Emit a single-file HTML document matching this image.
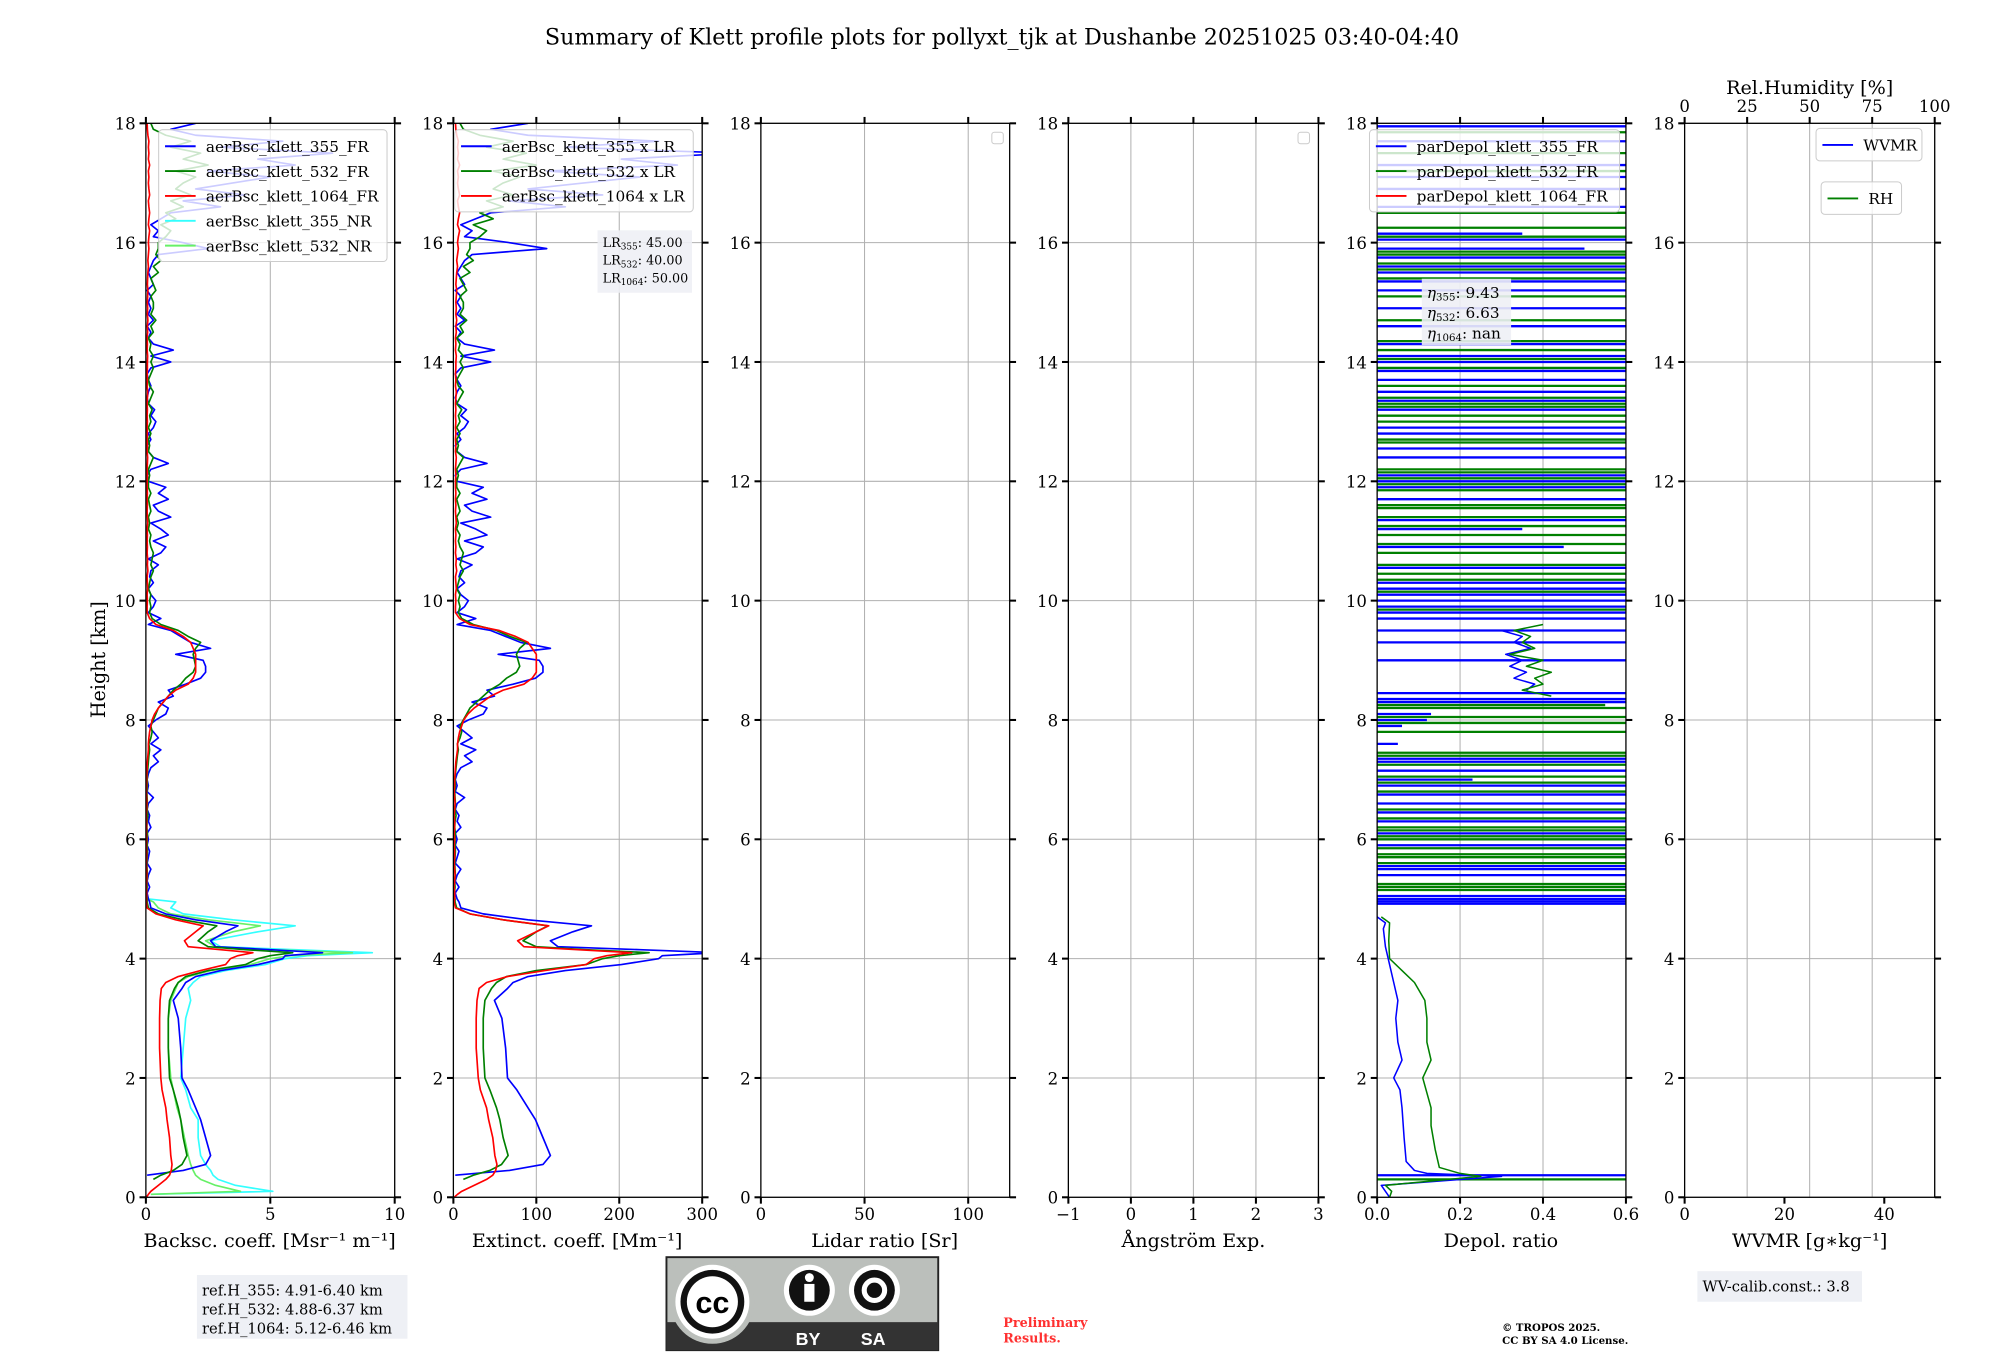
<!DOCTYPE html>
<html><head><meta charset="utf-8">
<style>
html,body{margin:0;padding:0;background:#fff;}
svg{display:block;font-family:"DejaVu Serif","Liberation Serif",serif;}
</style></head>
<body>
<svg id="fig" xmlns="http://www.w3.org/2000/svg" width="2000" height="1360" viewBox="0 0 1560 1061" preserveAspectRatio="none">
<rect x="0" y="0" width="1560" height="1061" fill="#fff"/>
<g id="root" transform="matrix(0.9952 0 0 0.9939 1.34 0.79)">
<text x="784" y="34" font-size="17.4" text-anchor="middle">Summary of Klett profile plots for pollyxt_tjk at Dushanbe 20251025 03:40-04:40</text>
<text x="0" y="0" font-size="15" text-anchor="middle" transform="translate(81,517) rotate(-90)">Height [km]</text>
<g id="plots"></g>
<g>
<rect x="153" y="1000" width="165" height="50" fill="#eef0f5"/>
<text x="157" y="1016" font-size="11.5">ref.H_355: 4.91-6.40 km</text>
<text x="157" y="1031" font-size="11.5">ref.H_532: 4.88-6.37 km</text>
<text x="157" y="1046" font-size="11.5">ref.H_1064: 5.12-6.46 km</text>
</g>
<g>
<rect x="521" y="986" width="213" height="73" fill="#bbbfbb" stroke="#222" stroke-width="1.5"/>
<rect x="521" y="1037" width="213" height="22" fill="#333"/>
<circle cx="557" cy="1021" r="33" fill="#bbbfbb"/>
<circle cx="557" cy="1021" r="29" fill="#fff"/>
<circle cx="557" cy="1021" r="25" fill="#111"/>
<circle cx="557" cy="1021" r="20" fill="#fff"/>
<text x="557" y="1030" font-size="24" font-weight="bold" text-anchor="middle" font-family="Liberation Sans, sans-serif">cc</text>
<circle cx="633" cy="1012" r="20" fill="#fff"/><circle cx="633" cy="1012" r="16" fill="#111"/>
<circle cx="633" cy="1002" r="3.5" fill="#fff"/><rect x="629" y="1007" width="8" height="14" fill="#fff"/>
<circle cx="684" cy="1012" r="20" fill="#fff"/><circle cx="684" cy="1012" r="16" fill="#111"/>
<circle cx="684" cy="1012" r="8" fill="none" stroke="#fff" stroke-width="4"/>
<text x="632" y="1055" font-size="14" font-weight="bold" fill="#fff" text-anchor="middle" font-family="Liberation Sans, sans-serif">BY</text>
<text x="683" y="1055" font-size="14" font-weight="bold" fill="#fff" text-anchor="middle" font-family="Liberation Sans, sans-serif">SA</text>
</g>
<text x="785" y="1041" font-size="10" font-weight="bold" fill="#ff3030">Preliminary</text>
<text x="785" y="1053" font-size="10" font-weight="bold" fill="#ff3030">Results.</text>
<text x="1176" y="1044" font-size="8" font-weight="bold">© TROPOS 2025.</text>
<text x="1176" y="1054" font-size="8" font-weight="bold">CC BY SA 4.0 License.</text>
<g>
<rect x="1329" y="997" width="129" height="24" fill="#eef0f5"/>
<text x="1333" y="1013" font-size="11.5">WV-calib.const.: 3.8</text>
</g>
</g>
</svg>
<script>
const heightsLow = [0,0.05,0.1,0.2,0.3,0.37,0.45,0.55,0.7,1.0,1.3,1.5,1.8,2.0,2.5,3.0,3.3,3.5,3.6,3.7,3.8,3.9,4.0,4.05,4.1,4.15,4.2,4.3,4.45,4.55,4.65,4.75,4.85,4.95];
const bsc355Low = [null,null,null,null,null,0.05,1.5,2.4,2.6,2.4,2.2,2.0,1.7,1.45,1.4,1.3,1.1,1.45,1.6,2.0,3.0,4.5,5.5,5.6,7.1,5.0,2.8,2.6,3.2,3.7,2.0,0.8,0.2,0.15];
const bsc532Low = [null,null,null,null,0.3,0.6,1.1,1.45,1.65,1.5,1.4,1.3,1.1,0.95,0.9,0.9,0.95,1.15,1.3,1.6,2.5,4.0,4.5,5.0,5.9,4.0,2.5,2.1,2.5,2.85,1.5,0.5,0.1,0.05];
const bsc1064Low = [0.02,0.1,0.2,0.5,0.8,0.95,1.02,1.05,1.0,0.95,0.85,0.8,0.65,0.6,0.55,0.55,0.57,0.62,0.8,1.3,2.2,3.2,3.4,3.7,4.3,3.0,1.7,1.55,2.0,2.3,1.2,0.4,0.05,0.02];
const bsc355NRLow = [null,0.2,5.1,3.6,2.9,2.7,2.6,2.4,2.2,2.1,2.1,1.8,1.6,1.4,1.5,1.6,1.8,1.7,1.9,2.2,3.2,4.8,5.6,6.5,9.1,6.0,3.0,2.6,4.5,6.0,3.5,1.5,1.0,1.2];
const bsc532NRLow = [null,0.2,3.8,2.8,2.2,2.0,1.9,1.8,1.7,1.55,1.4,1.25,1.1,1.0,0.9,0.9,1.0,1.2,1.3,1.7,2.6,4.2,5.0,5.8,8.3,5.0,2.8,2.4,3.5,4.6,2.5,1.0,0.5,0.3];
const upperStart = 5.0, upperStep = 0.1;
const bsc355Up = [0.1,0.05,0.15,0.05,0.1,0.2,0.05,0.1,0.15,0.05,
0.1,0.05,0.2,0.1,0.15,0.05,0.1,0.3,0.05,0.1,
0.05,0.1,0.2,0.5,0.3,0.6,0.2,0.5,0.3,0.1,
0.4,0.8,0.9,0.5,1.1,0.9,1.6,2.2,2.4,2.4,
2.3,1.2,2.6,1.8,1.4,1.0,0.1,0.6,0.1,0.3,
0.4,0.2,0.1,0.3,0.15,0.2,0.5,0.1,0.6,0.8,
0.3,0.9,0.6,0.2,1.0,0.5,0.3,0.9,0.5,0.8,
0.1,0.05,0.2,0.9,0.3,0.1,0.05,0.2,0.1,0.3,
0.4,0.2,0.35,0.1,0.05,0.1,0.2,0.1,0.05,0.2,
1.0,0.2,1.1,0.3,0.1,0.2,0.05,0.3,0.1,0.2,
0.1,0.2,0.05,0.3,0.2,0.1,0.2,0.3,0.5,2.5,
1.5,0.3,0.5,0.2,0.6,1.0,3.0,1.5,4.0,2.0,
3.5,5.0,2.5,6.0,4.5,7.5,3.0,5.5,2.0,1.0,
2.0];
const bsc532Up = [0.05,0.03,0.05,0.04,0.06,0.05,0.04,0.05,0.06,0.05,
0.05,0.06,0.04,0.05,0.08,0.05,0.06,0.05,0.04,0.06,
0.05,0.06,0.08,0.1,0.12,0.15,0.12,0.2,0.25,0.2,
0.3,0.4,0.5,0.7,0.9,1.1,1.4,1.6,1.9,2.0,
1.95,1.9,2.0,2.2,1.7,1.3,0.6,0.25,0.15,0.2,
0.15,0.2,0.1,0.15,0.2,0.3,0.2,0.25,0.3,0.2,
0.15,0.2,0.1,0.15,0.1,0.2,0.15,0.1,0.2,0.1,
0.1,0.15,0.1,0.2,0.3,0.1,0.15,0.1,0.2,0.1,
0.2,0.15,0.25,0.1,0.2,0.3,0.15,0.1,0.2,0.3,
0.2,0.3,0.15,0.2,0.1,0.3,0.2,0.4,0.2,0.3,
0.3,0.2,0.4,0.3,0.2,0.5,0.3,0.6,0.4,0.5,
0.5,0.8,1.0,0.6,1.2,0.8,1.5,1.0,1.8,1.2,
1.5,2.0,1.2,2.5,1.5,2.2,1.0,1.8,0.8,0.3,
0.2];
const bsc1064Up = [0.03,0.03,0.02,0.03,0.04,0.03,0.02,0.03,0.03,0.02,
0.03,0.02,0.03,0.03,0.02,0.03,0.04,0.03,0.02,0.03,
0.03,0.04,0.05,0.06,0.08,0.1,0.1,0.12,0.15,0.2,
0.25,0.35,0.5,0.7,0.9,1.2,1.7,1.9,2.0,2.0,
2.0,2.0,1.9,1.8,1.5,1.1,0.4,0.15,0.05,0.05,
0.06,0.05,0.07,0.06,0.05,0.08,0.06,0.07,0.05,0.06,
0.05,0.06,0.05,0.07,0.06,0.05,0.06,0.05,0.06,0.05,
0.05,0.06,0.05,0.06,0.07,0.05,0.06,0.05,0.06,0.05,
0.06,0.05,0.06,0.05,0.06,0.07,0.05,0.06,0.05,0.06,
0.06,0.07,0.05,0.06,0.05,0.07,0.06,0.08,0.06,0.07,
0.06,0.07,0.08,0.06,0.07,0.08,0.1,0.08,0.1,0.12,
0.1,0.12,0.15,0.1,0.12,0.15,0.12,0.1,0.15,0.12,
0.1,0.12,0.1,0.15,0.1,0.12,0.1,0.12,0.08,0.06,
0.05];
const bsc355NRUp = [0.1];
const bsc532NRUp = [0.05];
const lidarRatios = [45, 40, 50];
const dep355H = [0,0.1,0.2,0.35,0.4,0.45,0.6,1.0,1.5,1.8,2.0,2.3,2.6,3.0,3.3,3.6,3.9,4.2,4.5,4.6,4.7];
const dep355V = [0.03,0.02,0.01,0.3,0.12,0.09,0.07,0.065,0.06,0.055,0.04,0.06,0.05,0.045,0.05,0.04,0.03,0.02,0.015,0.02,0.0];
const dep532H = [0,0.1,0.2,0.35,0.4,0.5,0.8,1.2,1.5,2.0,2.3,2.6,3.0,3.3,3.6,3.8,4.0,4.3,4.6,4.7];
const dep532V = [0.03,0.035,0.02,0.25,0.2,0.15,0.14,0.13,0.13,0.11,0.13,0.12,0.12,0.115,0.09,0.06,0.03,0.028,0.03,0.01];
const dep355CloudH = [8.5,8.6,8.7,8.8,8.9,9.0,9.1,9.2,9.3,9.4,9.5];
const dep355CloudV = [0.36,0.38,0.33,0.36,0.32,0.35,0.31,0.37,0.33,0.35,0.3];
const dep532CloudH = [8.4,8.5,8.6,8.7,8.8,8.9,9.0,9.1,9.2,9.3,9.4,9.5,9.6];
const dep532CloudV = [0.42,0.35,0.4,0.38,0.42,0.36,0.4,0.32,0.38,0.35,0.37,0.33,0.4];
const dep355StreakH = [0.37,4.92,4.96,5.0,5.05,5.4,5.5,5.55,5.9,6.1,6.3,6.45,6.6,6.75,6.9,7.0,7.15,7.3,7.35,7.6,7.9,8.0,8.1,8.3,8.35,8.45,9.0,9.3,9.5,9.7,9.8,9.9,10.0,10.1,10.2,10.3,10.55,10.9,11.2,11.35,11.7,11.9,12.0,12.1,12.4,12.55,12.8,12.9,13.2,13.35,13.5,13.7,13.85,14.0,14.1,14.3,14.6,14.9,15.2,15.35,15.5,15.6,15.75,15.9,16.05,16.15,16.6,16.9,17.1,17.3,17.7,17.95];
const dep355StreakV = [0.6,0.6,0.6,0.6,0.6,0.6,0.6,0.6,0.6,0.6,0.6,0.6,0.6,0.6,0.6,0.23,0.6,0.6,0.6,0.05,0.06,0.12,0.13,0.6,0.6,0.6,0.6,0.6,0.6,0.6,0.6,0.6,0.6,0.6,0.6,0.6,0.6,0.45,0.35,0.6,0.6,0.6,0.6,0.6,0.6,0.6,0.6,0.6,0.6,0.6,0.6,0.6,0.6,0.6,0.6,0.6,0.6,0.6,0.6,0.6,0.6,0.6,0.6,0.5,0.6,0.35,0.6,0.6,0.6,0.6,0.6,0.6];
const dep532StreakH = [0.3,5.15,5.2,5.25,5.6,5.7,5.75,5.85,6.0,6.05,6.15,6.2,6.35,6.5,6.8,6.95,7.05,7.25,7.4,7.45,7.8,7.95,8.05,8.2,8.25,9.85,10.15,10.35,10.45,10.6,10.8,10.95,11.1,11.25,11.4,11.55,11.6,11.85,11.95,12.05,12.15,12.2,12.65,12.7,13.0,13.1,13.25,13.3,13.4,13.6,13.9,14.05,14.2,14.35,14.7,15.1,15.4,15.55,15.65,15.8,15.85,16.1,16.25,16.5,17.2,17.5,17.85];
const dep532StreakV = [0.6,0.6,0.6,0.6,0.6,0.6,0.6,0.6,0.6,0.6,0.6,0.6,0.6,0.6,0.6,0.6,0.6,0.6,0.6,0.6,0.6,0.6,0.6,0.6,0.55,0.6,0.6,0.6,0.6,0.6,0.6,0.6,0.6,0.6,0.6,0.6,0.6,0.6,0.6,0.6,0.6,0.6,0.6,0.6,0.6,0.6,0.6,0.6,0.6,0.6,0.6,0.6,0.6,0.6,0.6,0.6,0.6,0.6,0.6,0.6,0.6,0.6,0.6,0.6,0.6,0.6,0.6];
const yTicks = [0,2,4,6,8,10,12,14,16,18];
const bscTicks = [0,5,10];
const extTicks = [0,100,200,300];
const lrTicks = [0,50,100];
const angTicks = [-1,0,1,2,3];
const depTicks = [0.0,0.2,0.4,0.6];
const depTickLabels = ["0.0","0.2","0.4","0.6"];
const wvTicks = [0,20,40];
const rhTicks = [0,25,50,75,100];

const NS = "http://www.w3.org/2000/svg";
const plots = document.getElementById('plots');
const Y0 = 939, YTOP = 96, HMAX = 18;
function yScale(h){ return Y0 - h*(Y0-YTOP)/HMAX; }
function mk(tag, attrs, parent){
  const e = document.createElementNS(NS, tag);
  for (const k in attrs) e.setAttribute(k, attrs[k]);
  (parent||plots).appendChild(e); return e;
}
const upperHeights = bsc355Up.map((_, i) => +(upperStart + i*upperStep).toFixed(2));
function combine(low, up){ return { h: heightsLow.concat(upperHeights.slice(0, up.length)), v: low.concat(up) }; }

const panels = [
  {name:'backscatter', x0:113, x1:308, d0:0, d1:10, ticks:bscTicks, labels:bscTicks.map(String), label:'Backsc. coeff. [Msr\u207B\u00B9 m\u207B\u00B9]', lx:210},
  {name:'extinction', x0:354, x1:549, d0:0, d1:300, ticks:extTicks, labels:extTicks.map(String), label:'Extinct. coeff. [Mm\u207B\u00B9]', lx:451},
  {name:'lidar-ratio', x0:595, x1:790, d0:0, d1:120, ticks:lrTicks, labels:lrTicks.map(String), label:'Lidar ratio [Sr]', lx:692},
  {name:'angstrom', x0:836, x1:1032, d0:-1, d1:3, ticks:angTicks, labels:angTicks.map(v=>v<0?'\u2212'+(-v):String(v)), label:'\u00C5ngstr\u00F6m Exp.', lx:934},
  {name:'depol', x0:1078, x1:1273, d0:0, d1:0.6, ticks:depTicks, labels:depTickLabels, label:'Depol. ratio', lx:1175},
  {name:'wvmr', x0:1319, x1:1515, d0:0, d1:50.1, ticks:wvTicks, labels:wvTicks.map(String), label:'WVMR [g\u2217kg\u207B\u00B9]', lx:1417}
];
panels.forEach((p, idx) => {
  p.x = v => p.x0 + (v - p.d0)*(p.x1 - p.x0)/(p.d1 - p.d0);
  const g = mk('g', {});
  
  
  p.g = g;
  const cp = mk('clipPath', {id:'clip'+idx}, g);
  mk('rect', {x:p.x0, y:YTOP, width:p.x1-p.x0, height:Y0-YTOP}, cp);
  yTicks.forEach(t => { const l = mk('line', {x1:p.x0, x2:p.x1, y1:yScale(t), y2:yScale(t), stroke:'#b0b0b0', 'stroke-width':0.8}, g);
      });
  const gxTicks = idx===5 ? rhTicks.map(v => p.x0 + v*(p.x1-p.x0)/100) : p.ticks.map(p.x);
  gxTicks.forEach(x => { const l = mk('line', {x1:x, x2:x, y1:YTOP, y2:Y0, stroke:'#b0b0b0', 'stroke-width':0.8}, g);
      });
  p.plot = mk('g', {'clip-path':'url(#clip'+idx+')'}, g);
});

function drawLine(p, hs, vs, color, width, name, opacity){
  let d = '', pen = false;
  for (let i=0;i<hs.length;i++){
    const v = vs[i];
    if (v === null || v === undefined){ pen = false; continue; }
    d += (pen?'L':'M') + p.x(v).toFixed(2) + ',' + yScale(hs[i]).toFixed(2);
    pen = true;
  }
  const e = mk('path', {d:d, fill:'none', stroke:color, 'stroke-width':width, 'stroke-linejoin':'round', opacity:opacity||1}, p.plot);
  
  
}
function drawStreaks(p, hs, vs, color, name){
  let d = '';
  for (let i=0;i<hs.length;i++){ const y = yScale(hs[i]).toFixed(2); d += 'M' + p.x(0) + ',' + y + 'L' + p.x(vs[i]).toFixed(2) + ',' + y; }
  const e = mk('path', {d:d, fill:'none', stroke:color, 'stroke-width':1.8}, p.plot);
  
  
}

const s355 = combine(bsc355Low, bsc355Up), s532 = combine(bsc532Low, bsc532Up), s1064 = combine(bsc1064Low, bsc1064Up);
const s355NR = combine(bsc355NRLow, bsc355NRUp), s532NR = combine(bsc532NRLow, bsc532NRUp);
drawLine(panels[0], s355NR.h, s355NR.v, '#33ffff', 1.3, 'bsc-355-nr-line');
drawLine(panels[0], s532NR.h, s532NR.v, '#66f066', 1.3, 'bsc-532-nr-line');
drawLine(panels[0], s355.h, s355.v, '#0000ff', 1.3, 'bsc-355-fr-line');
drawLine(panels[0], s532.h, s532.v, '#008000', 1.3, 'bsc-532-fr-line');
drawLine(panels[0], s1064.h, s1064.v, '#ff0000', 1.3, 'bsc-1064-fr-line');
drawLine(panels[1], s355.h, s355.v.map(v => v===null?null:v*lidarRatios[0]), '#0000ff', 1.3, 'ext-355-line');
drawLine(panels[1], s532.h, s532.v.map(v => v===null?null:v*lidarRatios[1]), '#008000', 1.3, 'ext-532-line');
drawLine(panels[1], s1064.h, s1064.v.map(v => v===null?null:v*lidarRatios[2]), '#ff0000', 1.3, 'ext-1064-line');
drawStreaks(panels[4], dep355StreakH, dep355StreakV, '#0000ff', 'depol-355-noise');
drawStreaks(panels[4], dep532StreakH, dep532StreakV, '#008000', 'depol-532-noise');
drawLine(panels[4], dep355H, dep355V, '#0000ff', 1.2, 'depol-355-line');
drawLine(panels[4], dep532H, dep532V, '#008000', 1.2, 'depol-532-line');
drawLine(panels[4], dep355CloudH, dep355CloudV, '#0000ff', 1.2, 'depol-355-cloud-line');
drawLine(panels[4], dep532CloudH, dep532CloudV, '#008000', 1.2, 'depol-532-cloud-line');

panels.forEach((p, idx) => {
  const g = p.g;
  const fr = mk('rect', {x:p.x0, y:YTOP, width:p.x1-p.x0, height:Y0-YTOP, fill:'none', stroke:'#000', 'stroke-width':1}, g);
   
  yTicks.forEach(t => {
    const y = yScale(t);
    mk('line', {x1:p.x0-5, x2:p.x0, y1:y, y2:y, stroke:'#000', 'stroke-width':1.6}, g);
    mk('line', {x1:p.x1, x2:p.x1+5, y1:y, y2:y, stroke:'#000', 'stroke-width':1.6}, g);
    const tl = mk('text', {x:p.x0-8, y:y+5, 'font-size':13, 'text-anchor':'end'}, g);
    tl.textContent = String(t);
     
  });
  p.ticks.forEach((t, i) => {
    const x = p.x(t);
    mk('line', {x1:x, x2:x, y1:Y0, y2:Y0+5, stroke:'#000', 'stroke-width':1.6}, g);
    if (idx !== 5) mk('line', {x1:x, x2:x, y1:YTOP-5, y2:YTOP, stroke:'#000', 'stroke-width':1.6}, g);
    const tl = mk('text', {x:x, y:957, 'font-size':13, 'text-anchor':'middle'}, g);
    tl.textContent = p.labels[i];
     
  });
  const xl = mk('text', {x:p.lx, y:978, 'font-size':15, 'text-anchor':'middle'}, g);
  xl.textContent = p.label;
   
});
(function(){
  const p = panels[5];
  rhTicks.forEach(t => {
    const x = p.x0 + t*(p.x1-p.x0)/100;
    mk('line', {x1:x, x2:x, y1:YTOP-5, y2:YTOP, stroke:'#000', 'stroke-width':1.6}, p.g);
    const tl = mk('text', {x:x, y:87, 'font-size':13, 'text-anchor':'middle'}, p.g);
    tl.textContent = String(t);
     
  });
  const t = mk('text', {x:1417, y:73, 'font-size':15, 'text-anchor':'middle'}, p.g);
  t.textContent = 'Rel.Humidity [%]';
   
})();

function legend(name, x, y, w, entries){
  const g = mk('g', {});
  
  
  mk('rect', {x:x, y:y, width:w, height:entries.length*19.5+6, rx:3, fill:'#fff', 'fill-opacity':0.8, stroke:'#cccccc', 'stroke-width':0.8}, g);
  entries.forEach((e, i) => {
    const yy = y + 13 + i*19.5;
    mk('line', {x1:x+5, x2:x+29, y1:yy, y2:yy, stroke:e[1], 'stroke-width':1.5}, g);
    const t = mk('text', {x:x+37, y:yy+4.5, 'font-size':12}, g);
    t.textContent = e[0];
     
  });
}
legend('backscatter-legend', 123, 101, 179, [['aerBsc_klett_355_FR','#0000ff'],['aerBsc_klett_532_FR','#008000'],['aerBsc_klett_1064_FR','#ff0000'],['aerBsc_klett_355_NR','#33ffff'],['aerBsc_klett_532_NR','#66f066']]);
legend('extinction-legend', 355, 101, 187, [['aerBsc_klett_355 x LR','#0000ff'],['aerBsc_klett_532 x LR','#008000'],['aerBsc_klett_1064 x LR','#ff0000']]);
legend('depol-legend', 1072, 101, 196, [['parDepol_klett_355_FR','#0000ff'],['parDepol_klett_532_FR','#008000'],['parDepol_klett_1064_FR','#ff0000']]);
legend('wvmr-legend', 1422, 100, 83, [['WVMR','#0000ff']]);
legend('rh-legend', 1426, 142, 63, [['RH','#008000']]);
[[776,103],[1016,103]].forEach(pt => { const r = mk('rect', {x:pt[0], y:pt[1], width:9, height:9, rx:2, fill:'#fff', stroke:'#ccc', 'stroke-width':0.8});
    });

function infoBox(name, x, y, w, h, lines, fs){
  const g = mk('g', {});
  
  
  mk('rect', {x:x, y:y, width:w, height:h, fill:'#eef0f5', 'fill-opacity':0.9}, g);
  lines.forEach((l, i) => {
    const t = mk('text', {x:x+4, y:y+fs+3+i*(fs+4), 'font-size':fs}, g);
    t.innerHTML = l;
  });
}
infoBox('lidar-ratio-box', 467, 180, 74, 49, ['LR<tspan font-size="7" dy="2">355</tspan><tspan dy="-2">: 45.00</tspan>','LR<tspan font-size="7" dy="2">532</tspan><tspan dy="-2">: 40.00</tspan>','LR<tspan font-size="7" dy="2">1064</tspan><tspan dy="-2">: 50.00</tspan>'], 10);
infoBox('eta-box', 1113, 218, 70, 52, ['<tspan font-style="italic">η</tspan><tspan font-size="8" dy="2">355</tspan><tspan dy="-2">: 9.43</tspan>','<tspan font-style="italic">η</tspan><tspan font-size="8" dy="2">532</tspan><tspan dy="-2">: 6.63</tspan>','<tspan font-style="italic">η</tspan><tspan font-size="8" dy="2">1064</tspan><tspan dy="-2">: nan</tspan>'], 12);
</script>
</body></html>
